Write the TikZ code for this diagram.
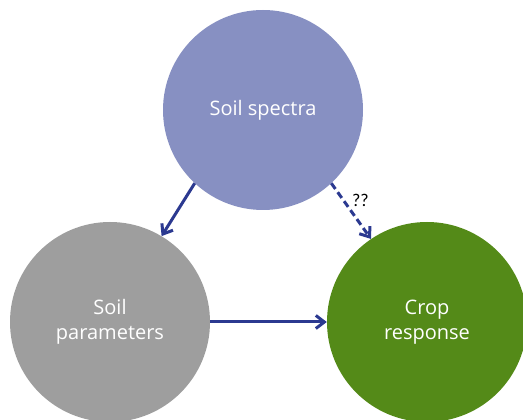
\documentclass[tikz,border=0pt]{standalone}
\usepackage{fontspec}
\setmainfont{Open Sans}
\newfontfamily\qfont{Carlito}
\usepackage{xcolor}
\usetikzlibrary{arrows.meta}
\definecolor{specc}{HTML}{8790C2}
\definecolor{parc}{HTML}{9E9E9E}
\definecolor{cropc}{HTML}{548A18}
\definecolor{arc}{HTML}{2B3990}
\tikzset{
  ball/.style={circle,minimum size=200pt,inner sep=0pt,align=center,text=white,
    font=\fontsize{20}{25}\selectfont},
  ar/.style={-{Straight Barb[length=3mm,width=4.6mm,line width=3pt]},line width=3pt,arc}
}
\begin{document}
\begin{tikzpicture}[x=1pt,y=1pt]
\useasboundingbox (0,0) rectangle (523,420);
\clip (0,0) rectangle (523,420);
\node[ball,fill=specc] (spec) at (263,310) {Soil spectra};
\node[ball,fill=parc] (par) at (110,98) {Soil\\parameters};
\node[ball,fill=cropc] (crop) at (427,98) {Crop\\response};
% links
\draw[ar] (spec.227) -- (par.59);
\draw[ar] (par.east) -- (crop.west);
\draw[ar,dash pattern=on 7pt off 4pt] (spec.313) -- (crop.124)
  node[pos=0.3,right=4pt,font=\qfont\fontsize{18}{18}\selectfont,text=black] (qq) {??};
\end{tikzpicture}
\end{document}
